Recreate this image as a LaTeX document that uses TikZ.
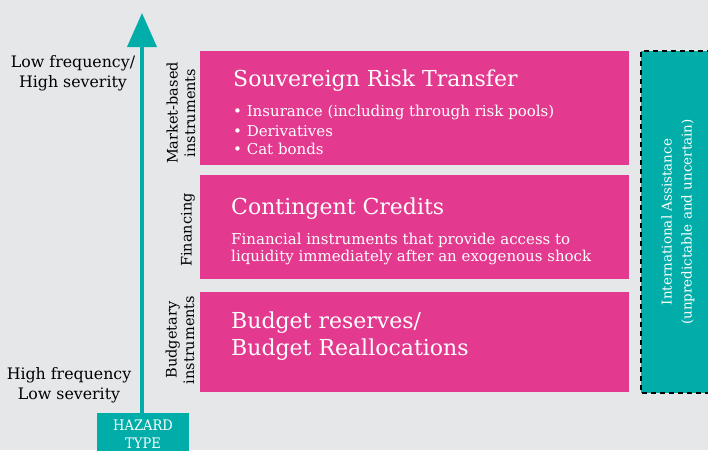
\documentclass[tikz,border=0pt]{standalone}
\usepackage{fontspec}
\setmainfont{DejaVu Serif}
\newfontfamily\condfont{DejaVu Serif Condensed}
\usetikzlibrary{arrows.meta}
\definecolor{bg}{HTML}{E6E7E9}
\definecolor{pinkc}{HTML}{E33A8F}
\definecolor{tealc}{HTML}{00ADA8}
\begin{document}
\begin{tikzpicture}[x=1pt,y=-1pt,
  pbox/.style={fill=pinkc,draw=none,anchor=north west,inner sep=0pt},
  ttl/.style={anchor=west,text=white,font=\fontsize{22}{26}\selectfont,inner sep=0pt},
  sub/.style={anchor=west,text=white,font=\fontsize{15}{18}\selectfont,inner sep=0pt},
  side/.style={rotate=90,font=\fontsize{14.5}{17.5}\selectfont,align=center,inner sep=0pt},
  lbl/.style={font=\fontsize{15.8}{20}\selectfont,align=center,inner sep=0pt}]
\useasboundingbox (0,0) rectangle (708,450);
\fill[bg] (0,0) rectangle (708,450);
% pink boxes
\node[pbox,minimum width=429pt,minimum height=114pt] (b1) at (200,51) {};
\node[pbox,minimum width=429pt,minimum height=104pt] (b2) at (200,175) {};
\node[pbox,minimum width=429pt,minimum height=100pt] (b3) at (200,292) {};
% teal dashed box
\fill[tealc] (641,51) rectangle (712,393);
\draw[black,line width=1.2pt,dash pattern=on 5pt off 4pt] (712,51) -- (641,51) -- (641,393) -- (712,393);
\node[rotate=90,text=white,font=\fontsize{13.5}{20}\selectfont,align=center,inner sep=0pt] (ia) at (678,222) {International Assistance\\(unpredictable and uncertain)};
% texts in boxes
\node[ttl] (t1) at (233,81) {Souvereign Risk Transfer};
\node[sub] (s1a) at (233,112) {\textbullet\ Insurance (including through risk pools)};
\node[sub] (s1b) at (233,131) {\textbullet\ Derivatives};
\node[sub] (s1c) at (233,149) {\textbullet\ Cat bonds};
\node[ttl] (t2) at (231,209) {Contingent Credits};
\node[sub] (s2a) at (231,240) {Financial instruments that provide access to};
\node[sub] (s2b) at (231,257) {liquidity immediately after an exogenous shock};
\node[ttl] (t3a) at (231,323) {Budget reserves/};
\node[ttl] (t3b) at (231,350) {Budget Reallocations};
% side labels
\node[side] (l1) at (181,113) {Market-based\\instruments};
\node[side] (l2) at (188,230) {Financing};
\node[side] (l3) at (180,340) {Budgetary\\instruments};
% left labels
\node[lbl] (lf) at (73,73) {Low frequency/\\High severity};
\node[lbl] (hf) at (69,385) {High frequency\\Low severity};
% hazard box and arrow
\node[fill=tealc,text=white,minimum width=92pt,minimum height=40pt,anchor=north west,inner sep=0pt] (hz) at (97,413) {};
\node[text=white,font=\condfont\fontsize{14.5}{18}\selectfont,align=center,inner sep=0pt,anchor=north] (hzt) at (143,420) {HAZARD\\TYPE};
\coordinate (top) at (142,13);
\draw[tealc,line width=4pt,-{Triangle[width=29pt,length=34pt]}] (hz.north -| top) -- (top);
\end{tikzpicture}
\end{document}
